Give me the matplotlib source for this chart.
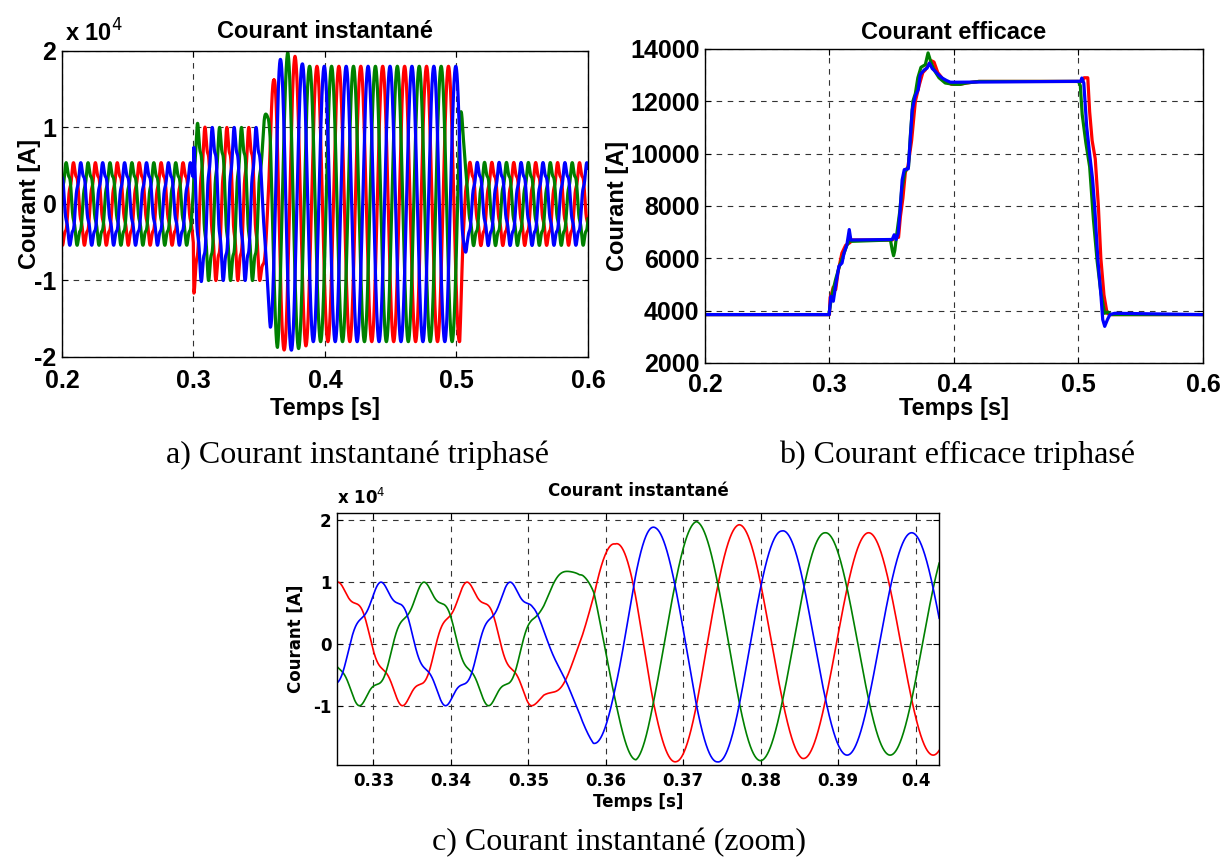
import numpy as np
import matplotlib
matplotlib.use('Agg')
import matplotlib.pyplot as plt
from matplotlib.ticker import FuncFormatter

# ---------------- data ----------------
FREQ_HZ = 60.0                 # supply frequency
GREEN_CREST_T = 0.3717         # time of a green crest in steady state (s)
phase_names = ['red', 'green', 'blue']
phase_lag_thirds = [1, 0, 2]   # lag behind green, in thirds of a period
phase_colors = ['#ff0000', '#008000', '#0000ff']

# crest value of the instantaneous current (A)
env_t = [0.200, 0.2999, 0.3003, 0.3040, 0.3100, 0.3520, 0.3566, 0.3584,
         0.3612, 0.3639, 0.3665, 0.3691, 0.3717, 0.3744, 0.3772, 0.3800,
         0.3827, 0.3853, 0.3883, 0.5025, 0.5050, 0.5080, 0.6000]
env_a = [5450, 5450, 11800, 10300, 10100, 10100, 13100, 16100,
         16200, 18900, 18900, 19100, 19800, 19100, 19300, 18900,
         18300, 18600, 18000, 18000, 9000, 5500, 5450]

# share of 5th harmonic distortion
dist_t = [0.200, 0.3505, 0.3570, 0.5040, 0.5100, 0.600]
dist_k = [0.10, 0.10, 0.00, 0.00, 0.10, 0.10]
H5_PHASE = 0.85

# time shift of the fundamental (s)
shift_t = [0.200, 0.3505, 0.3585, 0.3660, 0.600]
shift_s = [-0.0015, -0.0015, 0.0007, 0.0, 0.0]

# RMS current of each phase (A)
rms_red_t = [0.2, 0.3, 0.3005, 0.302, 0.303, 0.305, 0.307, 0.310, 0.313, 0.3165,
             0.318, 0.3505, 0.352, 0.354, 0.3555, 0.357, 0.359, 0.361, 0.363,
             0.366, 0.369, 0.372, 0.375, 0.377, 0.3795, 0.382, 0.384, 0.387,
             0.392, 0.398, 0.405, 0.41, 0.42, 0.503, 0.5045, 0.5075, 0.509,
             0.511, 0.5135, 0.516, 0.518, 0.5205, 0.523, 0.525, 0.6]
rms_red_v = [3850, 3850, 4500, 4700, 4900, 4800, 5500, 6200, 6500, 6600,
             6700, 6700, 6800, 6900, 6800, 7600, 8300, 9300, 9500,
             10500, 12000, 12600, 13100, 13200, 13400, 13550, 13500, 13100,
             12800, 12650, 12650, 12700, 12760, 12760, 12900, 12900, 11600,
             10500, 9800, 8000, 6000, 4600, 3900, 3850, 3850]

rms_green_t = [0.2, 0.2995, 0.301, 0.303, 0.305, 0.308, 0.311, 0.314, 0.3165,
               0.318, 0.349, 0.3505, 0.3515, 0.3525, 0.354, 0.3565, 0.358,
               0.3605, 0.3635, 0.365, 0.367, 0.369, 0.371, 0.3735, 0.377,
               0.3792, 0.3815, 0.384, 0.388, 0.393, 0.40, 0.405, 0.41, 0.42,
               0.50, 0.5015, 0.503, 0.506, 0.509, 0.512, 0.515, 0.518, 0.521,
               0.5235, 0.526, 0.6]
rms_green_v = [3850, 3850, 4300, 4800, 5200, 5700, 6100, 6500, 6700,
               6650, 6700, 6300, 6100, 6300, 6900, 7800, 8600,
               9300, 9500, 10700, 12000, 12300, 12900, 13300, 13400,
               13850, 13500, 13200, 12900, 12700, 12650, 12650, 12700, 12760,
               12760, 12600, 11500, 10400, 9500, 7500, 5900, 4700, 3900,
               3950, 3850, 3850]

rms_blue_t = [0.2, 0.2998, 0.3011, 0.3031, 0.3053, 0.3076, 0.3101, 0.3117,
              0.3140, 0.3159, 0.3172, 0.3504, 0.3520, 0.3536, 0.3552, 0.3568,
              0.3584, 0.3601, 0.3633, 0.3649, 0.3665, 0.3688, 0.3713, 0.3729,
              0.3761, 0.3784, 0.3803, 0.3826, 0.3849, 0.3874, 0.3906, 0.3939,
              0.3971, 0.4003, 0.5018, 0.5027, 0.5043, 0.5066, 0.5092, 0.5114,
              0.5130, 0.5156, 0.5179, 0.5195, 0.5211, 0.5233, 0.5253, 0.5291, 0.6]
rms_blue_v = [3850, 3850, 4550, 4360, 5060, 5700, 5820, 6200,
              6520, 7100, 6700, 6720, 6900, 6720, 6950, 7860,
              9000, 9390, 9420, 10540, 11680, 12190, 12450, 13020,
              13200, 13270, 13460, 13250, 13150, 13020, 12890, 12800,
              12730, 12730, 12765, 12890, 12700, 11040, 9900, 9000,
              7990, 5950, 4680, 3660, 3400, 3660, 3850, 3900, 3850]

# ---------------- build the instantaneous waveforms ----------------
t = np.linspace(0.2, 0.6, 16001)
A = np.interp(t, env_t, env_a)
K = np.interp(t, dist_t, dist_k)
S = np.interp(t, shift_t, shift_s)
period = 1.0 / FREQ_HZ
waves = []
for lag in phase_lag_thirds:
    th = 2 * np.pi * FREQ_HZ * (t - GREEN_CREST_T - lag * period / 3 - S)
    waves.append(A * ((1 - K) * np.cos(th) + K * np.cos(5 * th + H5_PHASE)))

rms_t = [rms_red_t, rms_green_t, rms_blue_t]
rms_v = [rms_red_v, rms_green_v, rms_blue_v]

# ---------------- figure ----------------
SANS_AB = ['Liberation Sans', 'DejaVu Sans']
SANS_C = ['DejaVu Sans']
plt.rcParams['font.family'] = SANS_AB
fig = plt.figure(figsize=(12.29, 8.61), dpi=100)
axA = fig.add_axes([0.0504, 0.5854, 0.4280, 0.3554])
axB = fig.add_axes([0.5736, 0.5784, 0.4052, 0.3647])
axC = fig.add_axes([0.2742, 0.1115, 0.4898, 0.2927])

grid_kw = dict(linestyle=(0, (5, 5)), color='0.2', linewidth=0.8)
sec = FuncFormatter(lambda v, p: '%g' % round(v, 3))
e4 = FuncFormatter(lambda v, p: '%g' % (v / 1e4))


def style(ax, tick_size, family, xpad, ypad):
    ax.tick_params(direction='in', length=4, width=0.8, top=True, right=True,
                   labelsize=tick_size)
    ax.tick_params(axis='x', pad=xpad)
    ax.tick_params(axis='y', pad=ypad)
    for lab in ax.get_xticklabels() + ax.get_yticklabels():
        lab.set_fontweight('bold')
        lab.set_family(family)
    for sp in ax.spines.values():
        sp.set_linewidth(1.0)
    ax.grid(True, **grid_kw)
    ax.set_axisbelow(True)


def labels(ax, title, size_t, size_l, family, tpad, xl_y, yl_x):
    ax.set_title(title, fontsize=size_t, fontweight='bold', pad=tpad, family=family)
    ax.set_xlabel('Temps [s]', fontsize=size_l, fontweight='bold', family=family)
    ax.set_ylabel('Courant [A]', fontsize=size_l, fontweight='bold', family=family)
    ax.xaxis.set_label_coords(0.5, xl_y)
    ax.xaxis.label.set_va('center')
    ax.yaxis.set_label_coords(yl_x, 0.5)
    ax.yaxis.label.set_va('center')


# panel a
for w, c in zip(waves, phase_colors):
    axA.plot(t, w, color=c, linewidth=2.3)
axA.set_xlim(0.2, 0.6)
axA.set_ylim(-2e4, 2e4)
axA.set_xticks([0.2, 0.3, 0.4, 0.5, 0.6])
axA.set_yticks([-2e4, -1e4, 0, 1e4, 2e4])
axA.yaxis.set_major_formatter(e4)
axA.xaxis.set_major_formatter(sec)
style(axA, 18, SANS_AB, 8.5, 4)
labels(axA, 'Courant instantané', 17, 17, SANS_AB, 9, -0.170, -0.061)
axA.text(0.005, 1.015, r'x 10$^4$', transform=axA.transAxes, fontsize=17,
         fontweight='bold', ha='left', va='bottom')

# panel b
for tt, vv, c in zip(rms_t, rms_v, phase_colors):
    axB.plot(tt, vv, color=c, linewidth=2.3)
axB.set_xlim(0.2, 0.6)
axB.set_ylim(2000, 14000)
axB.set_xticks([0.2, 0.3, 0.4, 0.5, 0.6])
axB.set_yticks(range(2000, 14001, 2000))
axB.xaxis.set_major_formatter(sec)
style(axB, 18, SANS_AB, 7, 4)
labels(axB, 'Courant efficace', 17, 17, SANS_AB, 7, -0.146, -0.175)

# panel c
for w, c in zip(waves, phase_colors):
    axC.plot(t, w, color=c, linewidth=1.2)
axC.set_xlim(0.3253, 0.4030)
axC.set_ylim(-1.96e4, 2.12e4)
axC.set_xticks([0.33, 0.34, 0.35, 0.36, 0.37, 0.38, 0.39, 0.40])
axC.set_yticks([-1e4, 0, 1e4, 2e4])
axC.yaxis.set_major_formatter(e4)
axC.xaxis.set_major_formatter(sec)
style(axC, 12, SANS_C, 5, 4)
labels(axC, 'Courant instantané', 12, 12, SANS_C, 12, -0.147, -0.068)
axC.text(0.0, 1.02, r'x 10$^4$', transform=axC.transAxes, fontsize=12,
         fontweight='bold', ha='left', va='bottom', family=SANS_C)

# captions
cap_kw = dict(fontsize=23, family=['Liberation Serif', 'DejaVu Serif'],
              ha='center', va='center')
fig.text(357 / 1229, 1 - 455 / 861, 'a) Courant instantané triphasé', **cap_kw)
fig.text(957 / 1229, 1 - 455 / 861, 'b) Courant efficace triphasé', **cap_kw)
fig.text(619 / 1229, 1 - 843 / 861, 'c) Courant instantané (zoom)', **cap_kw)

fig.savefig('out.png', dpi=100)
